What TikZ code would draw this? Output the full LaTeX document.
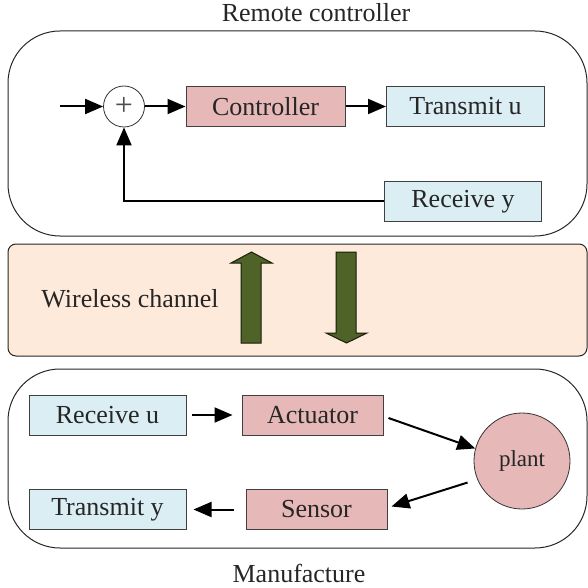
\documentclass[tikz,border=0pt]{standalone}
\usepackage{fontspec}
\setmainfont{Liberation Serif}
\newfontfamily\timesfont{Liberation Serif}
\usetikzlibrary{arrows.meta,positioning}

\definecolor{boxred}{HTML}{E6B9B8}
\definecolor{boxblue}{HTML}{DBEEF4}
\definecolor{chanfill}{HTML}{FDEADA}
\definecolor{arrgreen}{HTML}{4F6228}
\definecolor{txtgray}{HTML}{262626}

\tikzset{
  blockbox/.style={draw=black!75, line width=0.5pt, minimum height=20pt, inner sep=0pt,
    text=txtgray, font=\timesfont\fontsize{13}{15}\selectfont},
  redbox/.style={blockbox, fill=boxred},
  bluebox/.style={blockbox, fill=boxblue},
  outerbox/.style={draw=black!85, line width=0.5pt, rounded corners=26pt},
  flow/.style={line width=1pt, -{Triangle[length=9pt,width=7.5pt]}},
  greenarrow/.style={fill=arrgreen, draw=black!70!arrgreen, line width=0.5pt},
  label/.style={text=txtgray, font=\timesfont\fontsize{13}{15}\selectfont}
}

\begin{document}
\begin{tikzpicture}[x=0.5pt, y=-0.5pt]
  \useasboundingbox (0,0) rectangle (588,588);

  % Remote controller
  \draw[outerbox] (8,31) rectangle (587,236);
  \node[label] (rclabel) at (316,13) {Remote controller};

  \node[draw=black!80, fill=white, circle, minimum size=20.5pt, inner sep=0pt,
        text=black!70, font=\timesfont\fontsize{16}{16}\selectfont] (sum) at (124,106.5) {+};
  \coordinate (in) at (60,106.5);
  \node[redbox, minimum width=79.5pt] (ctrl) at (265.5,106.5) {Controller};
  \node[bluebox, minimum width=79pt] (tu) at (465.5,106.5) {Transmit u};
  \node[bluebox, minimum width=78.5pt] (ry) at (463,201.5) {Receive y};

  \draw[flow] (in) -- (sum);
  \draw[flow] (sum) -- (ctrl);
  \draw[flow] (ctrl) -- (tu);
  \draw[flow] (ry.west) -| (sum.south);

  % Wireless channel
  \draw[draw=black!85, fill=chanfill, line width=0.5pt, rounded corners=4pt] (8,244) rectangle (587,356);
  \node[label] (wlabel) at (130,299) {Wireless channel};
  \draw[greenarrow] (241,343) -- (241,263) -- (231,263) -- (251.5,252) -- (272,263) -- (261,263) -- (261,343) -- cycle;
  \draw[greenarrow] (336,252) -- (336,333) -- (326,333) -- (346.5,343) -- (367,333) -- (356,333) -- (356,252) -- cycle;

  % Manufacture
  \draw[outerbox] (8,369) rectangle (587,548);
  \node[label] (mlabel) at (299,573) {Manufacture};

  \node[bluebox, minimum width=78.5pt] (ru) at (107.5,415) {Receive u};
  \node[redbox, minimum width=70.5pt] (act) at (312.5,415) {Actuator};
  \node[draw=black!80, fill=boxred, circle, minimum size=48pt, inner sep=0pt,
        text=txtgray, font=\timesfont\fontsize{11.5}{13}\selectfont] (plant) at (522,461) {plant};
  \node[redbox, minimum width=70.5pt] (sens) at (316.5,509.5) {Sensor};
  \node[bluebox, minimum width=78.5pt] (ty) at (107.5,509.5) {Transmit y};

  \draw[flow, shorten <=2.5pt, shorten >=4.5pt] (ru) -- (act);
  \draw[flow] ([shift={(5,3)}]act.east) -- (plant.165);
  \draw[flow] ([shift={(-9,5)}]plant.200) -- ([shift={(4,-3)}]sens.east);
  \draw[flow, shorten <=6pt, shorten >=3.5pt] (sens) -- (ty);

\end{tikzpicture}
\end{document}
